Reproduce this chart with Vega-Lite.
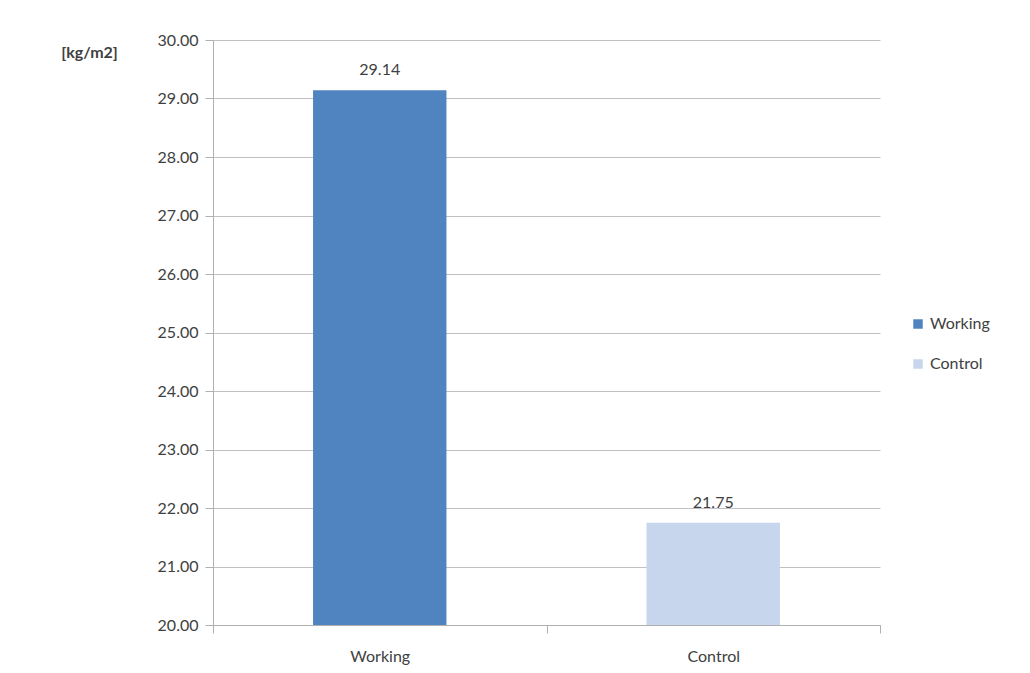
{
  "$schema": "https://vega.github.io/schema/vega-lite/v6.json",
  "width": 667,
  "height": 585,
  "autosize": "none",
  "padding": {"left": 213, "top": 40, "right": 150, "bottom": 48},
  "background": "white",
  "config": {
    "view": {"stroke": null},
    "font": "Lato",
    "axis": {"labelFont": "Lato", "labelColor": "#404040", "labelFontSize": 16, "domainColor": "#b0b0b0", "tickColor": "#b0b0b0", "gridColor": "#c0c0c0"}
  },
  "data": {"values": [
    {"group": "Working", "value": 29.14, "label": "29.14"},
    {"group": "Control", "value": 21.75, "label": "21.75"}
  ]},
  "encoding": {
    "x": {"field": "group", "type": "nominal", "sort": ["Working", "Control"],
      "scale": {"paddingInner": 0, "paddingOuter": 0},
      "axis": {"title": null, "labelAngle": 0, "tickBand": "extent", "tickSize": 8, "labelPadding": 15, "grid": false}},
    "y": {"field": "value", "type": "quantitative",
      "scale": {"domain": [20, 30], "zero": false, "nice": false},
      "axis": {"title": "[kg/m2]", "titleAngle": 0, "titleX": -124, "titleY": 12, "titleAlign": "center", "titleBaseline": "middle", "titleFont": "Lato", "titleFontSize": 16, "titleFontWeight": "bold", "titleColor": "#404040",
        "values": [20,21,22,23,24,25,26,27,28,29,30], "labelOverlap": false, "format": ".2f", "grid": true, "tickSize": 8, "labelPadding": 7}}
  },
  "layer": [
    {
      "mark": {"type": "bar", "width": {"band": 0.4}, "clip": true},
      "encoding": {
        "color": {"field": "group", "type": "nominal", "sort": ["Working", "Control"],
          "scale": {"domain": ["Working", "Control"], "range": ["#5084c1", "#c8d6ed"]},
          "legend": {"title": null, "orient": "none", "legendX": 697, "legendY": 276, "symbolType": "square", "symbolSize": 90, "symbolStrokeWidth": 0, "labelFont": "Lato", "labelFontSize": 16, "labelColor": "#404040", "rowPadding": 24, "labelOffset": 4}}
      }
    },
    {
      "mark": {"type": "text", "dy": -12, "fontSize": 16, "font": "Lato", "color": "#404040", "baseline": "bottom"},
      "encoding": {"text": {"field": "label"}}
    }
  ]
}
